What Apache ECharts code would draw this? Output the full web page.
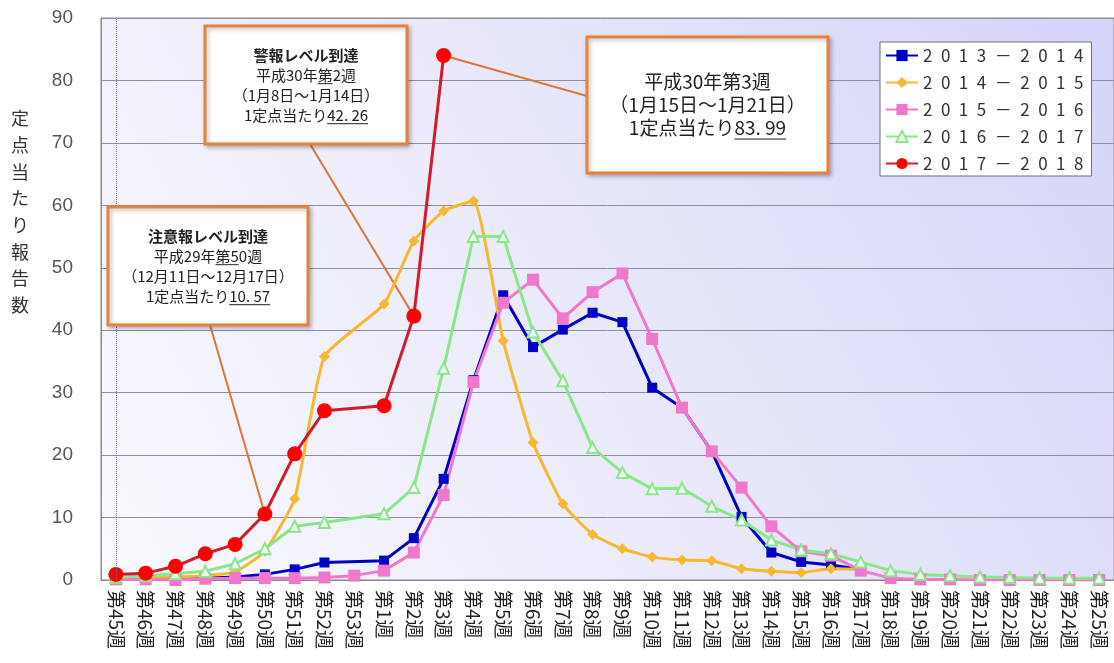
<!DOCTYPE html>
<html><head><meta charset="utf-8">
<script src="https://cdn.jsdelivr.net/npm/echarts@6/dist/echarts.min.js"></script>
<style>html,body{margin:0;padding:0;background:#fff}#c{width:1114px;height:663px}</style>
</head><body><div id="c"></div>
<script>
const categories = ['第45週','第46週','第47週','第48週','第49週','第50週','第51週','第52週','第53週',
  '第1週','第2週','第3週','第4週','第5週','第6週','第7週','第8週','第9週','第10週','第11週','第12週',
  '第13週','第14週','第15週','第16週','第17週','第18週','第19週','第20週','第21週','第22週','第23週','第24週','第25週'];
const seriesNames = ['2013－2014','2014－2015','2015－2016','2016－2017','2017－2018'];
const s2013 = [0.2,0.2,0.1,0.3,0.5,0.9,1.7,2.8,null,3.1,6.7,16.2,32.0,45.6,37.3,40.1,42.8,41.3,30.8,27.6,20.6,10.1,4.4,2.9,2.4,1.7,null,null,null,null,null,null,null,null];
const s2014 = [0.2,0.3,0.5,0.7,1.3,4.6,13.0,35.8,null,44.2,54.3,59.1,60.7,38.3,22.0,12.2,7.3,5.0,3.7,3.2,3.1,1.8,1.4,1.2,1.8,1.7,null,null,null,null,null,null,null,null];
const s2015 = [0.1,0.1,0.0,0.2,0.3,0.3,0.3,0.4,0.7,1.5,4.4,13.6,31.7,44.4,48.1,41.9,46.1,49.1,38.6,27.6,20.6,14.8,8.6,4.6,3.9,1.5,0.3,0.1,0.1,0.0,0.0,0.0,0.0,0.0];
const s2016 = [0.4,0.7,1.0,1.4,2.6,5.0,8.6,9.2,null,10.6,14.8,33.9,55.0,55.0,39.7,31.9,21.2,17.2,14.6,14.7,11.8,9.6,6.4,4.8,4.2,2.9,1.5,0.9,0.7,0.5,0.4,0.3,0.3,0.3];
const s2017 = [0.9,1.1,2.2,4.2,5.7,10.57,20.2,27.1,null,27.9,42.26,83.99,null,null,null,null,null,null,null,null,null,null,null,null,null,null,null,null,null,null,null,null,null,null];
const yAxisTitle = '定点当たり報告数';

const JP = '"Noto Sans CJK JP", sans-serif';
const chart = echarts.init(document.getElementById('c'), null, {renderer:'canvas'});

function mkSeries(name, data, color, symbol, size, extra) {
  return Object.assign({
    name, type:'line', data, connectNulls:true, symbol, symbolSize:size,
    lineStyle:{color, width:3}, itemStyle:{color}, emphasis:{disabled:true}
  }, extra || {});
}

const option = {
  animation:false,
  backgroundColor:'#ffffff',
  grid:{left:101, top:18, width:1016, bottom:83, show:true, borderColor:'#8a8a8a', borderWidth:1,
    backgroundColor:{type:'linear', x:0, y:1, x2:1, y2:0, colorStops:[
      {offset:0, color:'#fafaff'},{offset:0.5, color:'#e8e8fa'},{offset:1, color:'#d4d4f9'}]}},
  legend:{orient:'vertical', left:880, top:42, backgroundColor:'#ffffff', borderColor:'#707070', borderWidth:1,
    padding:[5,8,4,5], itemGap:10, itemWidth:32, itemHeight:14,
    data:seriesNames,
    formatter:n => n.split('').join('\u2002'),
    textStyle:{fontFamily:JP, fontSize:17, color:'#333'}},
  xAxis:{type:'category', data:categories, boundaryGap:true,
    axisLine:{lineStyle:{color:'#888', width:1}},
    axisTick:{inside:true, length:5, lineStyle:{color:'#666'}},
    axisLabel:{rotate:-90, margin:10, fontFamily:JP, fontSize:19, color:'#222', interval:0}},
  yAxis:{type:'value', min:0, max:90, interval:10,
    axisLine:{show:true, lineStyle:{color:'#888'}}, axisTick:{show:false},
    axisLabel:{margin:28, fontFamily:'"Liberation Sans", Arial, sans-serif', fontSize:19, color:'#555'},
    splitLine:{lineStyle:{color:'#8f8f9c', width:1}}},
  series:[
    mkSeries(seriesNames[0], s2013, '#0000c4', 'rect', 10, {markLine:{silent:true, symbol:'none', label:{show:false},
      lineStyle:{type:'dotted', color:'#7070c0', width:1}, data:[{xAxis:'第45週'}]}}),
    mkSeries(seriesNames[1], s2014, '#f5b830', 'diamond', 11, {smooth:0.15}),
    mkSeries(seriesNames[2], s2015, '#f078cc', 'rect', 12),
    mkSeries(seriesNames[3], s2016, '#88e888', 'emptyTriangle', 11, {itemStyle:{color:'#88e888', borderWidth:1.5}}),
    mkSeries(seriesNames[4], s2017, '#e81010', 'circle', 15, {lineStyle:{color:'#d01c2c', width:3}, itemStyle:{color:'#ff0000'}})
  ]
};
chart.setOption(option);

// --- annotations ---
const cvs = document.createElement('canvas').getContext('2d');
function tw(s, size, bold) { cvs.font = (bold?'bold ':'') + size + 'px "Noto Sans CJK JP"'; return cvs.measureText(s).width; }

function callout(b, target) {
  const els = [];
  els.push({type:'line', z:1, shape:{x1:b.ax, y1:b.ay, x2:target[0], y2:target[1]},
    style:{stroke:'#d9783a', lineWidth:2}, silent:true});
  els.push({type:'rect', z:50, shape:{x:b.x, y:b.y, width:b.w, height:b.h},
    style:{fill:'#ffffff', stroke:'#e8823a', lineWidth:3, shadowBlur:4, shadowColor:'rgba(0,0,0,0.25)', shadowOffsetX:2, shadowOffsetY:2}, silent:true});
  const cx = b.x + b.w/2;
  const n = b.lines.length;
  const y0 = b.y + b.h/2 - (n-1)*b.lh/2 + (b.dy||0);
  b.lines.forEach((ln, i) => {
    const y = y0 + i*b.lh;
    els.push({type:'text', z:51, x:cx, y:y, silent:true,
      style:{text:ln.t, fill:'#222', font:(ln.bold?'bold ':'') + b.size + 'px "Noto Sans CJK JP"', textAlign:'center', textVerticalAlign:'middle'}});
    if (ln.u) {
      const W = tw(ln.t, b.size, ln.bold);
      const s = cx - W/2 + tw(ln.t.slice(0, ln.u[0]), b.size, ln.bold);
      const e = cx - W/2 + tw(ln.t.slice(0, ln.u[1]), b.size, ln.bold);
      const uy = y + b.size*0.58;
      els.push({type:'line', z:51, silent:true, shape:{x1:s, y1:uy, x2:e, y2:uy}, style:{stroke:'#222', lineWidth:1}});
    }
  });
  return els;
}

const pW50 = chart.convertToPixel({seriesIndex:4}, [5, s2017[5]]);
const pW2 = chart.convertToPixel({seriesIndex:4}, [10, s2017[10]]);
const pW3 = chart.convertToPixel({seriesIndex:4}, [11, s2017[11]]);

const t1 = '1定点当たり42. 26', t2 = '1定点当たり10. 57', t3 = '1定点当たり83. 99';
const graphics = [].concat(
  callout({x:205, y:26, w:202, h:118, lh:20, size:15, ax:310, ay:144, lines:[
    {t:'警報レベル到達', bold:true},
    {t:'平成30年第2週', u:[5,6]},
    {t:'（1月8日～1月14日）'},
    {t:t1, u:[6, t1.length]}]}, pW2),
  callout({x:108, y:207, w:200, h:118, lh:20, size:15, ax:210, ay:325, lines:[
    {t:'注意報レベル到達', bold:true},
    {t:'平成29年第50週', u:[5,7]},
    {t:'（12月11日～12月17日）'},
    {t:t2, u:[6, t2.length]}]}, pW50),
  callout({x:587, y:37, w:241, h:136, lh:23, size:19, ax:587, ay:96, lines:[
    {t:'平成30年第3週'},
    {t:'（1月15日～1月21日）'},
    {t:t3, u:[6, t3.length]}]}, pW3),
  [{type:'text', x:20, y:105, silent:true,
    style:{text:yAxisTitle.split('').join('\n'), font:'18px "Noto Sans CJK JP"', lineHeight:26.7, fill:'#333', textAlign:'center', textVerticalAlign:'top'}}]
);
chart.setOption({graphic:{elements:graphics}});
</script></body></html>
